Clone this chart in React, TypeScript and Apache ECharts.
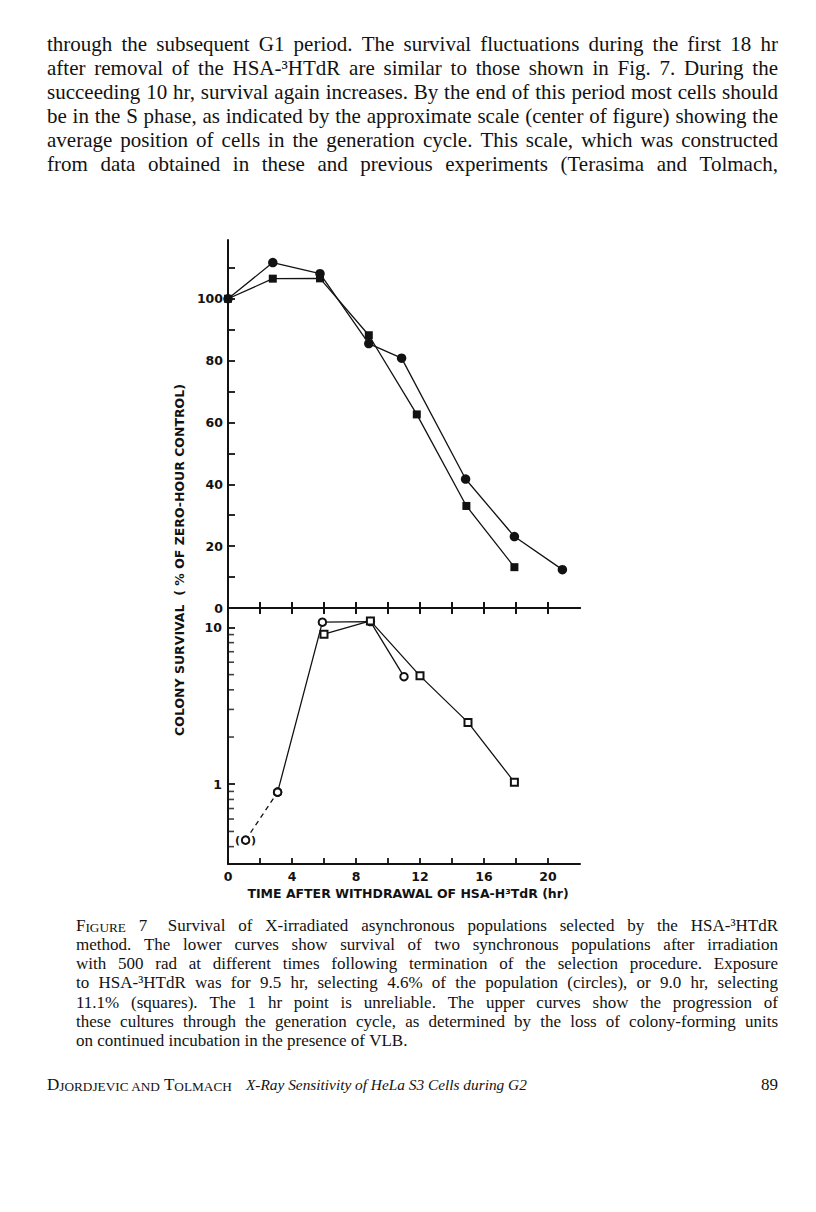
import React, { useEffect, useRef } from "react";
import * as echarts from "echarts";

const INK = "#121212";
const SERIF = '"Liberation Serif", "Times New Roman", serif';
const SANS = '"DejaVu Sans", "Liberation Sans", sans-serif';

// ---- axis ticks / labels ----
const timeTicks = [2, 4, 6, 8, 10, 12, 14, 16, 18, 20];
const timeLabels = [0, 4, 8, 12, 16, 20];
const upperSurvTicks = [10, 20, 30, 40, 50, 60, 70, 80, 90, 100, 110];
const upperSurvLabels = [0, 20, 40, 60, 80, 100];
const lowerMajorTicks = [1, 10];
const lowerMinorTicks = [0.4, 0.5, 0.6, 0.7, 0.8, 0.9, 2, 3, 4, 5, 6, 7, 8, 9];

// ---- upper panel: progression (filled symbols) ----
const upperCircleHr = [0, 2.8, 5.75, 8.8, 10.85, 14.85, 17.9, 20.9];
const upperCirclePct = [100, 111.7, 108.1, 85.5, 80.8, 41.7, 23.1, 12.4];
const upperSquareHr = [0, 2.8, 5.75, 8.8, 11.8, 14.9, 17.9];
const upperSquarePct = [100, 106.5, 106.6, 88.2, 62.6, 33.0, 13.2];

// ---- lower panel: survival after 500 rad (open symbols, log scale) ----
const lowerCircleHr = [1.1, 3.1, 5.9, 8.9, 11.0];
const lowerCirclePct = [0.44, 0.89, 10.8, 10.9, 4.85];
const lowerSquareHr = [6.0, 8.9, 12.0, 15.0, 17.9];
const lowerSquarePct = [9.06, 11.0, 4.91, 2.48, 1.03];

// ---- page text ----
const bodyLines = [
  "through the subsequent G1 period. The survival fluctuations during the first 18 hr",
  "after removal of the HSA-³HTdR are similar to those shown in Fig. 7. During the",
  "succeeding 10 hr, survival again increases. By the end of this period most cells should",
  "be in the S phase, as indicated by the approximate scale (center of figure) showing the",
  "average position of cells in the generation cycle. This scale, which was constructed",
  "from data obtained in these and previous experiments (Terasima and Tolmach,",
];
const captionLines = [
  "Survival of X-irradiated asynchronous populations selected by the HSA-³HTdR",
  "method. The lower curves show survival of two synchronous populations after irradiation",
  "with 500 rad at different times following termination of the selection procedure. Exposure",
  "to HSA-³HTdR was for 9.5 hr, selecting 4.6% of the population (circles), or 9.0 hr, selecting",
  "11.1% (squares). The 1 hr point is unreliable. The upper curves show the progression of",
  "these cultures through the generation cycle, as determined by the loss of colony-forming units",
  "on continued incubation in the presence of VLB.",
];
const footerTitle = "X-Ray Sensitivity of HeLa S3 Cells during G2";
const pageNo = "89";
const yTitle = "COLONY SURVIVAL  ( % OF ZERO-HOUR CONTROL)";
const xTitle = "TIME AFTER WITHDRAWAL OF HSA-H³TdR (hr)";

type Tok = { text: string; w: number; rich?: any; after?: number };

function buildPageText(): any[] {
  const cv = document.createElement("canvas");
  const ctx = cv.getContext("2d") as CanvasRenderingContext2D;
  const meas = (t: string, size: number, style = "normal") => {
    ctx.font = `${style} normal ${size}px ${SERIF}`;
    return ctx.measureText(t).width;
  };
  const els: any[] = [];
  const place = (
    toks: Tok[],
    left: number,
    right: number,
    y: number,
    fs: number,
    justify: boolean
  ) => {
    const total = toks.reduce((s, t) => s + t.w + (t.after || 0), 0);
    const n = toks.length;
    const gap = justify && n > 1 ? (right - left - total) / (n - 1) : meas(" ", fs);
    let x = left;
    toks.forEach((t) => {
      const style: any = {
        text: t.text,
        fontSize: fs,
        fontFamily: SERIF,
        fill: INK,
        textAlign: "left",
        textVerticalAlign: "middle",
      };
      if (t.rich) style.rich = t.rich;
      els.push({ type: "text", x, y, silent: true, style });
      x += t.w + (t.after || 0) + gap;
    });
  };

  // body paragraph
  const bL = 47, bR = 778;
  const bodyFs = Math.min(
    21,
    ...bodyLines.map((l) => {
      const ws = l.split(" ");
      const W = ws.reduce((s, x) => s + meas(x, 100), 0) / 100;
      return (bR - bL) / (W + 0.2 * (ws.length - 1));
    })
  );
  bodyLines.forEach((l, i) => {
    const toks = l.split(" ").map((t) => ({ text: t, w: meas(t, bodyFs) }));
    place(toks, bL, bR, 44 + i * 24, bodyFs, true);
  });

  // caption
  const cL = 76, cR = 778, SC = 0.78;
  const figTokW = (fs: number) => meas("F", fs) + meas("IGURE", fs * SC);
  const capFs = Math.min(
    17,
    ...captionLines.slice(0, 6).map((l, i) => {
      const ws = l.split(" ");
      let W = ws.reduce((s, x) => s + meas(x, 100), 0) / 100;
      let n = ws.length;
      if (i === 0) {
        W += figTokW(100) / 100 + meas("7", 100) / 100 + 0.45;
        n += 2;
      }
      return (cR - cL) / (W + 0.2 * (n - 1));
    })
  );
  captionLines.forEach((l, i) => {
    let toks: Tok[] = l.split(" ").map((t) => ({ text: t, w: meas(t, capFs) }));
    if (i === 0) {
      toks = [
        {
          text: "{a|F}{b|IGURE}",
          w: figTokW(capFs),
          rich: {
            a: { fontSize: capFs, fontFamily: SERIF, fill: INK, verticalAlign: "bottom" },
            b: { fontSize: capFs * SC, fontFamily: SERIF, fill: INK, verticalAlign: "bottom" },
          },
        },
        { text: "7", w: meas("7", capFs), after: capFs * 0.45 },
        ...toks,
      ];
    }
    place(toks, cL, cR, 925 + i * 19.25, capFs, i < captionLines.length - 1);
  });

  // footer
  const fY = 1084;
  const aW100 =
    meas("D", 100) + meas("JORDJEVIC AND ", 100 * SC) + meas("T", 100) + meas("OLMACH", 100 * SC);
  const aFs = Math.min(18, (185 / aW100) * 100);
  els.push({
    type: "text",
    x: 47,
    y: fY,
    silent: true,
    style: {
      text: "{a|D}{b|JORDJEVIC AND }{a|T}{b|OLMACH}",
      fontSize: aFs,
      fontFamily: SERIF,
      fill: INK,
      textAlign: "left",
      textVerticalAlign: "middle",
      rich: {
        a: { fontSize: aFs, fontFamily: SERIF, fill: INK, verticalAlign: "bottom" },
        b: { fontSize: aFs * SC, fontFamily: SERIF, fill: INK, verticalAlign: "bottom" },
      },
    },
  });
  const tFs = Math.min(18, (281 / meas(footerTitle, 100, "italic")) * 100);
  els.push({
    type: "text",
    x: 246,
    y: fY,
    silent: true,
    style: {
      text: footerTitle,
      fontSize: tFs,
      fontStyle: "italic",
      fontFamily: SERIF,
      fill: INK,
      textAlign: "left",
      textVerticalAlign: "middle",
    },
  });
  els.push({
    type: "text",
    x: 778,
    y: fY,
    silent: true,
    style: {
      text: pageNo,
      fontSize: aFs,
      fontFamily: SERIF,
      fill: INK,
      textAlign: "right",
      textVerticalAlign: "middle",
    },
  });

  // axis titles
  els.push({
    type: "text",
    x: 179,
    y: 560,
    rotation: Math.PI / 2,
    silent: true,
    style: {
      text: yTitle,
      fontSize: 12.5,
      fontWeight: "bold",
      fontFamily: SANS,
      fill: INK,
      textAlign: "center",
      textVerticalAlign: "middle",
    },
  });
  els.push({
    type: "text",
    x: 408,
    y: 893,
    silent: true,
    style: {
      text: xTitle,
      fontSize: 12.5,
      fontWeight: "bold",
      fontFamily: SANS,
      fill: INK,
      textAlign: "center",
      textVerticalAlign: "middle",
    },
  });
  return els;
}

const pairs = (xs: number[], ys: number[]) => xs.map((x, i) => [x, ys[i]]);

export default function App() {
  const ref = useRef<HTMLDivElement>(null);
  useEffect(() => {
    if (!ref.current) return;
    const chart = echarts.init(ref.current, null, { renderer: "svg" });
    const axisLine = { show: true, onZero: false, lineStyle: { color: INK, width: 2 } };
    const labelFont = { fontSize: 12.5, fontWeight: "bold", fontFamily: SANS, color: INK };
    const lineStyle = { color: INK, width: 1.3 };
    const openItem = { color: INK, borderColor: INK, borderWidth: 1.6 };

    chart.setOption({
      animation: false,
      backgroundColor: "#ffffff",
      grid: [
        { left: 228, top: 240, width: 352, height: 368 },
        { left: 228, top: 608, width: 352, height: 256 },
      ],
      xAxis: [
        {
          gridIndex: 0,
          type: "value",
          min: 0,
          max: 22,
          position: "bottom",
          axisLine,
          axisTick: { show: true, inside: true, length: 6, customValues: timeTicks, lineStyle: { color: INK, width: 2 } },
          axisLabel: { show: false },
          splitLine: { show: false },
        },
        {
          gridIndex: 1,
          type: "value",
          min: 0,
          max: 22,
          position: "top",
          axisLine,
          axisTick: { show: true, inside: true, length: 6, customValues: timeTicks, lineStyle: { color: INK, width: 2 } },
          axisLabel: { show: false },
          splitLine: { show: false },
        },
        {
          gridIndex: 1,
          type: "value",
          min: 0,
          max: 22,
          position: "bottom",
          axisLine,
          axisTick: { show: true, inside: true, length: 6, customValues: timeTicks, lineStyle: { color: INK, width: 1.8 } },
          axisLabel: { ...labelFont, margin: 6, customValues: timeLabels },
          splitLine: { show: false },
        },
      ],
      yAxis: [
        {
          gridIndex: 0,
          type: "value",
          min: 0,
          max: 119,
          axisLine,
          axisTick: { show: true, inside: true, length: 7, customValues: upperSurvTicks, lineStyle: { color: INK, width: 1.8 } },
          axisLabel: { ...labelFont, margin: 5, customValues: upperSurvLabels },
          splitLine: { show: false },
        },
        {
          gridIndex: 1,
          type: "log",
          logBase: 10,
          min: 0.31,
          max: 13.3,
          axisLine,
          axisTick: { show: true, inside: true, length: 7, customValues: lowerMajorTicks, lineStyle: { color: INK, width: 1.8 } },
          axisLabel: { ...labelFont, margin: 6, customValues: lowerMajorTicks },
          splitLine: { show: false },
          minorTick: { show: false },
        },
      ],
      graphic: buildPageText(),
      series: [
        {
          type: "line",
          xAxisIndex: 0,
          yAxisIndex: 0,
          data: pairs(upperCircleHr, upperCirclePct),
          symbol: "circle",
          symbolSize: 9.5,
          itemStyle: { color: INK },
          lineStyle,
          emphasis: { disabled: true },
          z: 3,
        },
        {
          type: "line",
          xAxisIndex: 0,
          yAxisIndex: 0,
          data: pairs(upperSquareHr, upperSquarePct),
          symbol: "rect",
          symbolSize: 8,
          itemStyle: { color: INK },
          lineStyle,
          emphasis: { disabled: true },
          z: 4,
        },
        {
          type: "line",
          xAxisIndex: 2,
          yAxisIndex: 1,
          data: [
            {
              value: [lowerCircleHr[0], lowerCirclePct[0]],
              label: {
                show: true,
                position: "inside",
                formatter: "(\u2003)",
                fontSize: 11,
                fontWeight: "bold",
                fontFamily: SANS,
                color: INK,
              },
            },
            [lowerCircleHr[1], lowerCirclePct[1]],
          ],
          symbol: "emptyCircle",
          symbolSize: 7.5,
          itemStyle: openItem,
          lineStyle: { color: INK, width: 1.3, type: [5, 4] },
          emphasis: { disabled: true },
          z: 3,
        },
        {
          type: "line",
          xAxisIndex: 2,
          yAxisIndex: 1,
          data: pairs(lowerCircleHr.slice(1), lowerCirclePct.slice(1)),
          symbol: "emptyCircle",
          symbolSize: 7.5,
          itemStyle: openItem,
          lineStyle,
          emphasis: { disabled: true },
          z: 3,
        },
        {
          type: "line",
          xAxisIndex: 2,
          yAxisIndex: 1,
          data: pairs(lowerSquareHr, lowerSquarePct),
          symbol: "emptyRect",
          symbolSize: 7,
          itemStyle: openItem,
          lineStyle,
          emphasis: { disabled: true },
          z: 4,
        },
        {
          type: "scatter",
          xAxisIndex: 2,
          yAxisIndex: 1,
          data: lowerMinorTicks.map((v) => [0, v]),
          symbol: "rect",
          symbolSize: [6, 1.6],
          symbolOffset: [3, 0],
          itemStyle: { color: INK },
          silent: true,
          emphasis: { disabled: true },
          z: 5,
        },
      ],
    });
    return () => chart.dispose();
  }, []);
  return (
    <div
      ref={ref}
      style={{ position: "absolute", left: 0, top: 0, width: 816, height: 1212, background: "#fff" }}
    />
  );
}
